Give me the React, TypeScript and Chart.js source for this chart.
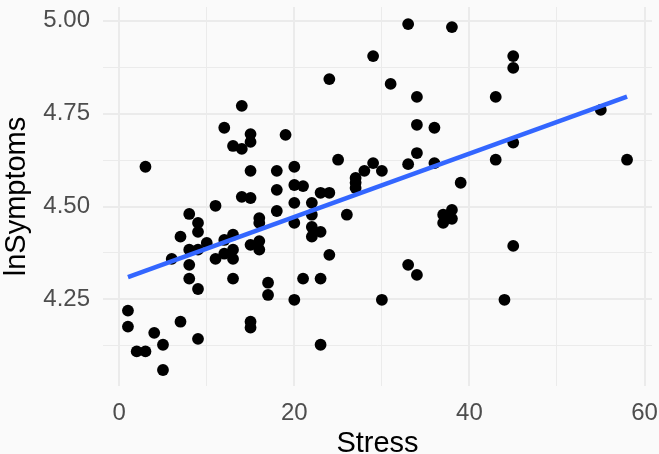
import React, { useEffect, useRef } from "react";
import { Chart, registerables } from "chart.js";

Chart.register(...registerables);

const stress = [
  1, 1, 2, 3, 3, 4, 5, 5, 6, 7, 7, 8, 8, 8, 8, 9, 9, 9, 9, 9, 10, 11, 11, 12, 12, 12,
  13, 13, 13, 13, 13, 14, 14, 14, 15, 15, 15, 15, 15, 15, 15, 16, 16, 16, 16, 17, 17,
  18, 18, 18, 19, 20, 20, 20, 20, 20, 21, 21, 22, 22, 22, 22, 23, 23, 23, 23, 24, 24,
  24, 25, 26, 27, 27, 27, 28, 29, 29, 30, 30, 31, 33, 33, 33, 34, 34, 34, 34, 36, 36,
  37, 37, 38, 38, 38, 39, 43, 43, 44, 45, 45, 45, 45, 55, 58,
];

const lnSymptoms = [
  4.22, 4.177, 4.11, 4.11, 4.607, 4.16, 4.128, 4.06, 4.359, 4.19, 4.419, 4.48, 4.384,
  4.343, 4.306, 4.456, 4.432, 4.384, 4.278, 4.144, 4.402, 4.502, 4.359, 4.712, 4.41,
  4.373, 4.663, 4.424, 4.384, 4.359, 4.306, 4.771, 4.655, 4.526, 4.695, 4.674, 4.596,
  4.523, 4.397, 4.19, 4.174, 4.469, 4.456, 4.407, 4.384, 4.295, 4.262, 4.596, 4.545,
  4.488, 4.693, 4.607, 4.558, 4.51, 4.456, 4.249, 4.555, 4.306, 4.51, 4.478, 4.445,
  4.419, 4.537, 4.432, 4.306, 4.128, 4.843, 4.537, 4.37, 4.626, 4.478, 4.577, 4.564,
  4.55, 4.596, 4.905, 4.617, 4.596, 4.249, 4.83, 4.991, 4.614, 4.343, 4.795, 4.72,
  4.644, 4.316, 4.712, 4.617, 4.478, 4.456, 4.983, 4.491, 4.467, 4.564, 4.795, 4.626,
  4.249, 4.905, 4.873, 4.672, 4.394, 4.76, 4.626,
];

// fitted regression line
const fitStress = [1, 58];
const fitSymptoms = [4.31, 4.796];

const xMajorTicks = [0, 20, 40, 60];
const xMinorTicks = [10, 30, 50];
const yMajorTicks = [4.25, 4.5, 4.75, 5.0];
const yMinorTicks = [4.125, 4.375, 4.625, 4.875];

const FONT = "'Liberation Sans', Arial, Helvetica, sans-serif";

export default function App() {
  const ref = useRef<HTMLCanvasElement | null>(null);

  useEffect(() => {
    if (!ref.current) return;
    const xTicks = [...xMajorTicks, ...xMinorTicks].sort((a, b) => a - b);
    const yTicks = [...yMajorTicks, ...yMinorTicks].sort((a, b) => a - b);

    const bgPlugin = {
      id: "bg",
      beforeDraw(chart: any) {
        const c = chart.ctx;
        c.save();
        c.fillStyle = "#FAFAFA";
        c.fillRect(0, 0, chart.width, chart.height);
        c.restore();
      },
    };

    const chart = new Chart(ref.current, {
      type: "scatter",
      data: {
        datasets: [
          {
            type: "line",
            data: fitStress.map((x, i) => ({ x, y: fitSymptoms[i] })),
            borderColor: "#3366FF",
            borderWidth: 4.6,
            pointRadius: 0,
            fill: false,
          } as any,
          {
            type: "scatter",
            data: stress.map((x, i) => ({ x, y: lnSymptoms[i] })),
            backgroundColor: "#000000",
            pointRadius: 5.9,
            pointBorderWidth: 0,
            pointHoverRadius: 5.9,
          },
        ],
      },
      options: {
        animation: false,
        responsive: true,
        maintainAspectRatio: false,
        layout: { padding: { left: 0, top: 7, right: 7, bottom: 0 } },
        plugins: {
          legend: { display: false },
          tooltip: { enabled: false },
        },
        scales: {
          x: {
            type: "linear",
            min: -1.85,
            max: 60.85,
            afterBuildTicks: (scale: any) => {
              scale.ticks = xTicks.map((v) => ({ value: v }));
            },
            afterFit: (scale: any) => {
              scale.height = 68;
              scale.paddingLeft = 0;
              scale.paddingRight = 0;
              scale.paddingTop = 0;
              scale.paddingBottom = 0;
            },
            border: { display: false },
            grid: {
              drawTicks: false,
              color: "#EBEBEB",
              lineWidth: (ctx: any) =>
                xMajorTicks.includes(ctx.tick?.value) ? 2 : 1,
            },
            ticks: {
              padding: 12.5,
              color: "#4D4D4D",
              font: { family: FONT, size: 24, lineHeight: 1.2 },
              maxRotation: 0,
              autoSkip: false,
              callback: (v: any) => (xMajorTicks.includes(Number(v)) ? String(v) : ""),
            },
            title: {
              display: true,
              text: "Stress",
              color: "#000000",
              font: { family: FONT, size: 29, lineHeight: 0.69 },
              padding: { top: 0, bottom: 0 },
            },
          },
          y: {
            type: "linear",
            min: 4.017,
            max: 5.037,
            afterBuildTicks: (scale: any) => {
              scale.ticks = yTicks.map((v) => ({ value: v }));
            },
            afterFit: (scale: any) => {
              scale.width = 103;
              scale.paddingLeft = 0;
              scale.paddingRight = 0;
              scale.paddingTop = 0;
              scale.paddingBottom = 0;
            },
            border: { display: false },
            grid: {
              drawTicks: false,
              color: "#EBEBEB",
              lineWidth: (ctx: any) =>
                yMajorTicks.some((t) => Math.abs(t - ctx.tick?.value) < 1e-6) ? 2 : 1,
            },
            ticks: {
              padding: 13,
              color: "#4D4D4D",
              font: { family: FONT, size: 24, lineHeight: 1.2 },
              autoSkip: false,
              callback: (v: any) =>
                yMajorTicks.some((t) => Math.abs(t - Number(v)) < 1e-6)
                  ? Number(v).toFixed(2)
                  : "",
            },
            title: {
              display: true,
              text: "lnSymptoms",
              color: "#000000",
              font: { family: FONT, size: 29, lineHeight: 1.2 },
              padding: { top: 0, bottom: 0 },
            },
          },
        },
      },
      plugins: [bgPlugin],
    });
    return () => chart.destroy();
  }, []);

  return (
    <div style={{ position: "fixed", left: 0, top: 0, width: 659, height: 454 }}>
      <canvas ref={ref} />
    </div>
  );
}
